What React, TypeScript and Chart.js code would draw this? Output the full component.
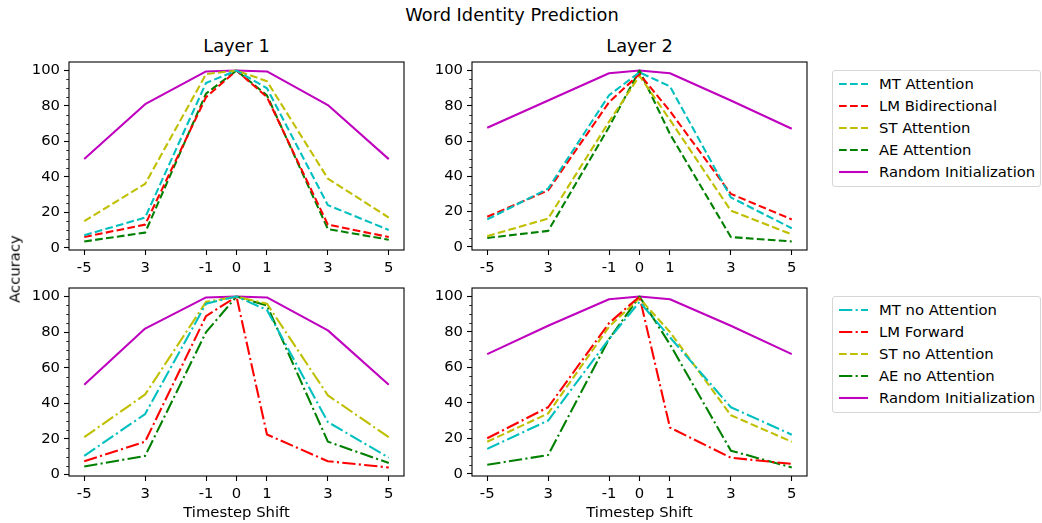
import React, { useEffect, useRef } from "react";
import { Chart, registerables } from "chart.js";

Chart.register(...registerables);

// ---------- data ----------
const xValues = [-5, -3, -1, 0, 1, 3, 5];
const xTickLabels = ["-5", "3", "-1", "0", "1", "3", "5"];
const yTicks = [0, 20, 40, 60, 80, 100];
const yMinorTicks = [5, 10, 15, 25, 30, 35, 45, 50, 55, 65, 70, 75, 85, 90, 95];

// Layer 1, attention
const mtAttentionL1 = [7, 17, 93, 100, 90, 24, 10];
const lmBidirectionalL1 = [6, 13, 85, 100, 85, 13, 6];
const stAttentionL1 = [15, 36, 98, 100, 94, 39, 17];
const aeAttentionL1 = [3.5, 8.5, 87, 100, 86, 10.5, 4.5];
const randomL1 = [50, 81, 99.5, 100, 99.5, 80.5, 50];

// Layer 2, attention
const mtAttentionL2 = [15.5, 33, 86, 99, 91, 28, 10.5];
const lmBidirectionalL2 = [17, 32, 82, 98, 77, 30, 15.5];
const stAttentionL2 = [6, 16, 71, 97, 72, 20.5, 7];
const aeAttentionL2 = [5, 9, 68, 100, 64, 5.5, 3];
const randomL2 = [67.5, 83, 98.5, 100, 98.5, 83, 67];

// Layer 1, no attention
const mtNoAttentionL1 = [10.5, 34, 96, 100, 92.5, 29.5, 9.5];
const lmForwardL1 = [7.5, 18.5, 89, 100, 22.5, 7.5, 4];
const stNoAttentionL1 = [21, 45, 97, 100, 96, 44.5, 21];
const aeNoAttentionL1 = [4.5, 10.5, 80, 100, 95, 18.5, 6.5];
const randomNoAttL1 = [50.5, 82, 99.5, 100, 99.5, 81, 50.5];

// Layer 2, no attention
const mtNoAttentionL2 = [14, 30, 76, 97, 77, 37.5, 22];
const lmForwardL2 = [20, 37.5, 85, 100, 26, 9, 5.5];
const stNoAttentionL2 = [18, 34, 83, 99, 80, 33, 18];
const aeNoAttentionL2 = [5, 10.5, 76, 100, 73, 13, 3.5];
const randomNoAttL2 = [67.5, 83.5, 98.5, 100, 98.5, 83.5, 67.5];

// ---------- styles ----------
const C = "#00bfbf";
const R = "#ff0000";
const Y = "#bfbf00";
const G = "#008000";
const M = "#bf00bf";
const DASHED = [7.7, 3.3];
const DASHDOT = [13.3, 3.3, 2.1, 3.3];
const SOLID: number[] = [];
const FONT = "'DejaVu Sans', sans-serif";
const SMALL = 14.8;
const BIG = 17.8;

type Series = { label: string; data: number[]; color: string; dash: number[] };

const topLeftSeries: Series[] = [
  { label: "MT Attention", data: mtAttentionL1, color: C, dash: DASHED },
  { label: "LM Bidirectional", data: lmBidirectionalL1, color: R, dash: DASHED },
  { label: "ST Attention", data: stAttentionL1, color: Y, dash: DASHED },
  { label: "AE Attention", data: aeAttentionL1, color: G, dash: DASHED },
  { label: "Random Initialization", data: randomL1, color: M, dash: SOLID },
];
const topRightSeries: Series[] = [
  { label: "MT Attention", data: mtAttentionL2, color: C, dash: DASHED },
  { label: "LM Bidirectional", data: lmBidirectionalL2, color: R, dash: DASHED },
  { label: "ST Attention", data: stAttentionL2, color: Y, dash: DASHED },
  { label: "AE Attention", data: aeAttentionL2, color: G, dash: DASHED },
  { label: "Random Initialization", data: randomL2, color: M, dash: SOLID },
];
const bottomLeftSeries: Series[] = [
  { label: "MT no Attention", data: mtNoAttentionL1, color: C, dash: DASHDOT },
  { label: "LM Forward", data: lmForwardL1, color: R, dash: DASHDOT },
  { label: "ST no Attention", data: stNoAttentionL1, color: Y, dash: DASHDOT },
  { label: "AE no Attention", data: aeNoAttentionL1, color: G, dash: DASHDOT },
  { label: "Random Initialization", data: randomNoAttL1, color: M, dash: SOLID },
];
const bottomRightSeries: Series[] = [
  { label: "MT no Attention", data: mtNoAttentionL2, color: C, dash: DASHDOT },
  { label: "LM Forward", data: lmForwardL2, color: R, dash: DASHDOT },
  { label: "ST no Attention", data: stNoAttentionL2, color: Y, dash: DASHED },
  { label: "AE no Attention", data: aeNoAttentionL2, color: G, dash: DASHDOT },
  { label: "Random Initialization", data: randomNoAttL2, color: M, dash: SOLID },
];

const topLegend: Series[] = topLeftSeries;
const bottomLegend: Series[] = bottomRightSeries;

// ---------- layout ----------
const PAD_L = 50;
const PAD_T = 14;
const PAD_R = 4;
const PAD_B = 30;

const framePlugin = {
  id: "frame",
  afterDraw(chart: any) {
    const { ctx, chartArea: a, scales } = chart;
    const ys = scales.y;
    ctx.save();
    ctx.strokeStyle = "#000";
    ctx.lineWidth = 0.8;
    for (const v of yMinorTicks) {
      if (v < ys.min || v > ys.max) continue;
      const py = Math.round(ys.getPixelForValue(v)) + 0.5;
      ctx.beginPath();
      ctx.moveTo(a.left, py);
      ctx.lineTo(a.left - 2.8, py);
      ctx.stroke();
    }
    ctx.lineWidth = 1.1;
    ctx.strokeRect(a.left, a.top, a.right - a.left, a.bottom - a.top);
    ctx.restore();
  },
};

function Panel({ series, left, top, width, height }: { series: Series[]; left: number; top: number; width: number; height: number }) {
  const ref = useRef<HTMLCanvasElement | null>(null);
  useEffect(() => {
    if (!ref.current) return;
    let dmin = Infinity;
    let dmax = -Infinity;
    series.forEach((s) => s.data.forEach((v) => { dmin = Math.min(dmin, v); dmax = Math.max(dmax, v); }));
    const span = dmax - dmin;
    const chart = new Chart(ref.current, {
      type: "line",
      data: {
        datasets: series.map((s) => ({
          label: s.label,
          data: s.data.map((v, i) => ({ x: xValues[i], y: v })),
          borderColor: s.color,
          backgroundColor: s.color,
          borderWidth: 2.08,
          borderDash: s.dash,
          borderJoinStyle: "round" as const,
          borderCapStyle: "butt" as const,
          pointRadius: 0,
          tension: 0,
          fill: false,
        })),
      },
      options: {
        animation: false,
        responsive: false,
        devicePixelRatio: 1,
        events: [],
        layout: { padding: { top: PAD_T, right: PAD_R, left: 0, bottom: 0 } },
        plugins: { legend: { display: false }, tooltip: { enabled: false }, title: { display: false } },
        scales: {
          x: {
            type: "linear",
            min: -5.5,
            max: 5.5,
            afterBuildTicks: (scale: any) => { scale.ticks = xValues.map((v) => ({ value: v })); },
            afterFit: (scale: any) => { scale.height = PAD_B; },
            ticks: {
              autoSkip: false,
              maxRotation: 0,
              padding: 4,
              color: "#000",
              font: { family: FONT, size: SMALL },
              callback: (_v: any, i: number) => xTickLabels[i],
            },
            grid: { drawOnChartArea: false, drawTicks: true, tickLength: 5, tickWidth: 1.1, tickColor: "#000" },
            border: { display: false },
          },
          y: {
            type: "linear",
            min: dmin - 0.05 * span,
            max: dmax + 0.05 * span,
            afterBuildTicks: (scale: any) => { scale.ticks = yTicks.map((v) => ({ value: v })); },
            afterFit: (scale: any) => { scale.width = PAD_L; },
            ticks: {
              padding: 4,
              color: "#000",
              font: { family: FONT, size: SMALL },
              callback: (v: any) => String(v),
            },
            grid: { drawOnChartArea: false, drawTicks: true, tickLength: 5, tickWidth: 1.1, tickColor: "#000" },
            border: { display: false },
          },
        },
      },
      plugins: [framePlugin],
    });
    return () => chart.destroy();
  }, [series]);
  return (
    <canvas
      ref={ref}
      width={width + PAD_L + PAD_R}
      height={height + PAD_T + PAD_B}
      style={{ position: "absolute", left: left - PAD_L, top: top - PAD_T, width: width + PAD_L + PAD_R, height: height + PAD_T + PAD_B }}
    />
  );
}

function Text({ x, y, size, children, rotate }: { x: number; y: number; size: number; children: React.ReactNode; rotate?: boolean }) {
  return (
    <div
      style={{
        position: "absolute",
        left: x,
        top: y,
        transform: `translate(-50%, -50%)${rotate ? " rotate(-90deg)" : ""}`,
        fontFamily: FONT,
        fontSize: size,
        lineHeight: 1,
        whiteSpace: "nowrap",
        color: "#000",
      }}
    >
      {children}
    </div>
  );
}

function Legend({ items, left, top }: { items: Series[]; left: number; top: number }) {
  return (
    <div
      style={{
        position: "absolute",
        left,
        top,
        width: 209,
        height: 117,
        border: "1px solid #d6d6d6",
        borderRadius: 3,
        background: "#fff",
        boxSizing: "border-box",
      }}
    >
      {items.map((s, i) => (
        <div key={s.label} style={{ position: "absolute", left: 0, top: 12.5 + i * 22.2, height: 0 }}>
          <svg width={40} height={6} style={{ position: "absolute", left: 0, top: -3 }}>
            <line x1={6} y1={3} x2={35} y2={3} stroke={s.color} strokeWidth={2.08} strokeDasharray={s.dash.length ? s.dash.join(" ") : undefined} />
          </svg>
          <div
            style={{
              position: "absolute",
              left: 46,
              top: 0,
              transform: "translateY(-50%)",
              fontFamily: FONT,
              fontSize: SMALL,
              lineHeight: 1,
              whiteSpace: "nowrap",
              color: "#000",
            }}
          >
            {s.label}
          </div>
        </div>
      ))}
    </div>
  );
}

export default function App() {
  const W = 335;
  const H = 188;
  return (
    <div style={{ position: "absolute", left: 0, top: 0, width: 1042, height: 523, background: "#fff", overflow: "hidden" }}>
      <Text x={512} y={15} size={BIG}>Word Identity Prediction</Text>
      <Text x={236.5} y={45.5} size={BIG}>Layer 1</Text>
      <Text x={639.5} y={45.5} size={BIG}>Layer 2</Text>
      <Panel series={topLeftSeries} left={69} top={62} width={W} height={H} />
      <Panel series={topRightSeries} left={472} top={62} width={W} height={H} />
      <Panel series={bottomLeftSeries} left={69} top={288} width={W} height={H} />
      <Panel series={bottomRightSeries} left={472} top={288} width={W} height={H} />
      <Text x={15} y={269} size={SMALL} rotate>Accuracy</Text>
      <Text x={236.5} y={512} size={SMALL}>Timestep Shift</Text>
      <Text x={639.5} y={512} size={SMALL}>Timestep Shift</Text>
      <Legend items={topLegend} left={832} top={70} />
      <Legend items={bottomLegend} left={832} top={296} />
    </div>
  );
}
